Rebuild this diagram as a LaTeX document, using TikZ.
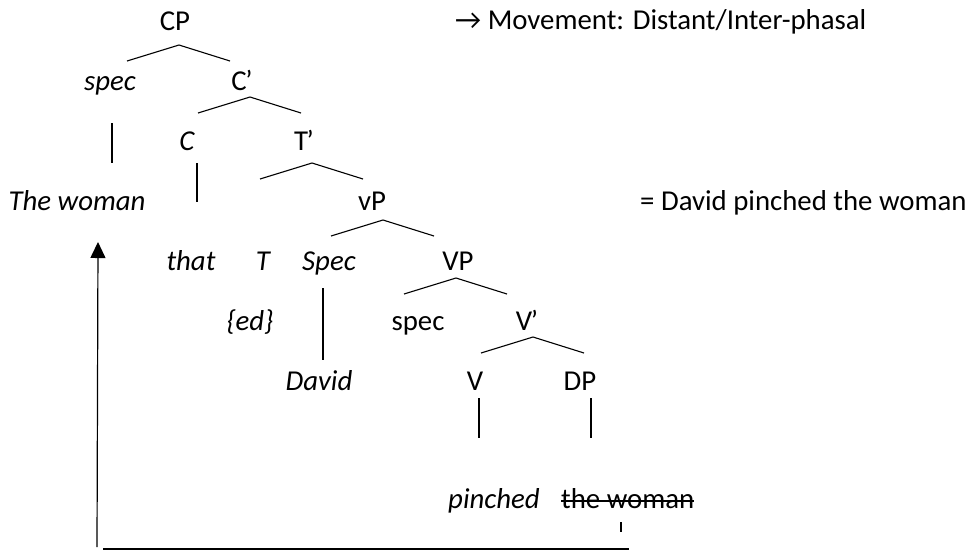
\documentclass[tikz,border=0pt]{standalone}
\usepackage{fontspec}
\setmainfont{Carlito}
\usetikzlibrary{arrows.meta}

\newcommand{\prm}{\kern-1.5pt’}

\begin{document}
\begin{tikzpicture}[x=1pt, y=-1pt,
  lbl/.style={anchor=base, inner sep=0pt, font=\fontsize{28.8}{34}\selectfont},
  ilbl/.style={lbl, font=\fontsize{28.8}{34}\selectfont\itshape},
  branch/.style={line width=1.1pt},
  move/.style={line width=1.2pt, black}]
  \useasboundingbox (0,0) rectangle (973,550);

  % Tree labels
  \node[lbl]  (CP)      at (175,30)  {CP};
  \node[ilbl] (spec1)   at (110,90)  {spec};
  \node[lbl]  (Cbar)    at (242,90)  {C\prm};
  \node[ilbl] (C)       at (187,150) {C};
  \node[lbl]  (Tbar)    at (304,150) {T\prm};
  \node[ilbl] (woman)   at (77,210)  {The woman};
  \node[lbl]  (vP)      at (372,210) {vP};
  \node[ilbl] (that)    at (191,270) {that};
  \node[ilbl] (T)       at (263,270) {T};
  \node[ilbl] (Spec)    at (329,270) {Spec};
  \node[lbl]  (VP)      at (458,270) {VP};
  \node[ilbl] (ed)      at (250,330) {\{ed\}};
  \node[lbl]  (spec2)   at (418,330) {spec};
  \node[lbl]  (Vbar)    at (527,330) {V\prm};
  \node[ilbl] (David)   at (319,390) {David};
  \node[lbl]  (V)       at (475,390) {V};
  \node[lbl]  (DP)      at (580,390) {DP};
  \node[ilbl] (pinched) at (494,508) {pinched};
  \node[lbl, anchor=base west] (trace) at (561,508) {the woman};
  \draw[line width=1.1pt] ([yshift=7pt]trace.base west) -- ([yshift=7pt]trace.base east);

  % Side notes
  \node[lbl, anchor=base west] (note)  at (455,29)  {→ Movement: Distant/Inter-phasal};
  \node[lbl, anchor=base west] (gloss) at (640,210) {= David pinched the woman};

  % Branching
  \foreach \nm/\x/\y in {CP/179/45, Cbar/250/97, Tbar/312/163, vP/383/220, VP/456/278, Vbar/533/337}
    \draw[branch] (\x,\y) coordinate (\nm-top) ++(-52,16) -- (\nm-top) -- ++(51,16);

  % Stems
  \foreach \nm/\x/\y/\len in {spec1/112/123/40, C/197/163/39, Spec/323/288/72, V/479/398/40, DP/591/398/40}
    \draw[branch] (\x,\y) coordinate (\nm-stem) -- ++(0,\len);

  % Movement
  \coordinate (foot) at (97,547);
  \coordinate (land) at (98,242);
  \draw[move, -{Triangle[length=16pt, width=15pt]}] (foot) -- (land);
  \coordinate (railL) at (103,549);
  \coordinate (railR) at (629,549);
  \draw[move] (railL) -- (railR);
  \coordinate (tick) at (621,522);
  \draw[move] (tick) -- ++(0,10);
\end{tikzpicture}
\end{document}
